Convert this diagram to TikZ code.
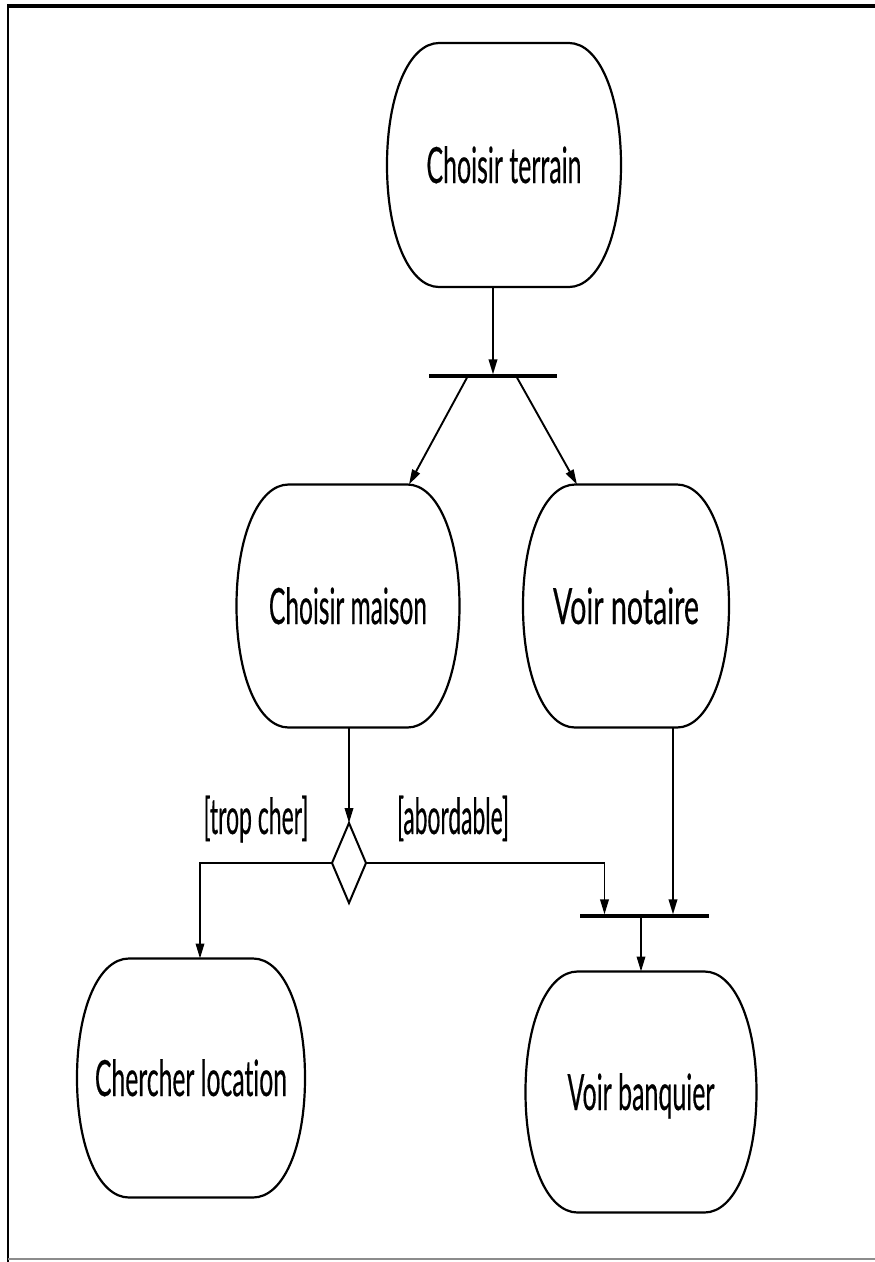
\documentclass[tikz,border=0pt]{standalone}
\usepackage{fontspec}
\usepackage{graphicx}
\usetikzlibrary{arrows.meta,shapes.geometric,calc}
\newfontfamily\actfont[Ligatures={NoCommon,NoContextual},FakeBold=0.5]{Lato}
% text squeezed to a given width, height kept
\newcommand\squeezed[2]{\resizebox{#1pt}{\height}{\fontsize{50pt}{52pt}\selectfont\actfont #2}}
% corner size of the activity outline
\def\rc{52}
\def\kx{30}
\def\ky{70}
% barrel-shaped outline around a named activity node
\newcommand\barrel[1]{%
  \draw[boxline] ($(#1.north west)+(\rc,0)$) -- ($(#1.north east)+(-\rc,0)$)
    .. controls ($(#1.north east)+(-\rc+\kx,0)$) and ($(#1.east)+(0,-\ky)$) .. (#1.east)
    .. controls ($(#1.east)+(0,\ky)$) and ($(#1.south east)+(-\rc+\kx,0)$) .. ($(#1.south east)+(-\rc,0)$)
    -- ($(#1.south west)+(\rc,0)$)
    .. controls ($(#1.south west)+(\rc-\kx,0)$) and ($(#1.west)+(0,\ky)$) .. (#1.west)
    .. controls ($(#1.west)+(0,-\ky)$) and ($(#1.north west)+(\rc-\kx,0)$) .. cycle;}
\begin{document}
\begin{tikzpicture}[x=1pt,y=-1pt,
  act/.style={inner sep=0pt, outer sep=0pt, text height=36pt, text depth=0pt},
  boxline/.style={line width=2.2pt, black},
  lbl/.style={inner sep=0pt, outer sep=0pt, anchor=base},
  forkbar/.style={fill=black, inner sep=0pt, outer sep=0pt, minimum height=3.2pt},
  decision/.style={diamond, draw, line width=2pt, inner sep=0pt, outer sep=0pt,
    minimum width=34pt, minimum height=80pt},
  flow/.style={line width=1.9pt, -{Triangle[length=15pt,width=8.5pt]}},
  frame/.style={line width=3.5pt, black}]
\useasboundingbox (0,0) rectangle (875,1262);
\fill[white] (0,0) rectangle (875,1262);

% page frame
\draw[frame] (7,6) -- (875,6);
\draw[line width=2.5pt] (8,6) -- (8,1262);
\draw[line width=2pt, black!45] (8,1259) -- (875,1259);

% activities
\node[act, minimum width=234pt, minimum height=244pt] (ct) at (504,165) {\squeezed{155}{Choisir terrain}};
\node[act, minimum width=223pt, minimum height=243pt] (cm) at (348,606) {\squeezed{158}{Choisir maison}};
\node[act, minimum width=206pt, minimum height=243pt] (vn) at (626,606) {\squeezed{146}{Voir notaire}};
\node[act, minimum width=228pt, minimum height=239pt] (cl) at (191,1078) {\squeezed{192}{Chercher location}};
\node[act, minimum width=231pt, minimum height=241pt] (vb) at (641,1092) {\squeezed{147}{Voir banquier}};
\barrel{ct}
\barrel{cm}
\barrel{vn}
\barrel{cl}
\barrel{vb}

% fork / join bars and decision
\node[forkbar, minimum width=128pt] (f1) at (493,376) {};
\node[forkbar, minimum width=129pt] (f2) at (644.5,916) {};
\node[decision] (dia) at (349,863) {};

% guards
\node[lbl] (g1) at (256,834) {\squeezed{105}{[trop cher]}};
\node[lbl] (g2) at (453,834) {\squeezed{112}{[abordable]}};

% flows
\draw[flow] (ct.south -| f1.center) -- (f1.north);
\draw[flow] ($(f1.south)+(-26,0)$) -- ($(cm.north)+(61,0)$);
\draw[flow] ($(f1.south)+(24,0)$) -- ($(vn.north)+(-49,0)$);
\draw[flow] (cm.south -| dia.north) -- (dia.north);
\draw[flow] (dia.west) -| ($(cl.north)+(9,0)$);
\draw[flow] (dia.east) -| ($(f2.north)+(-40,0)$);
\draw[flow] ($(vn.south)+(47,0)$) coordinate (vnout) -- (vnout |- f2.north);
\draw[flow] (f2.south -| vb.north) -- (vb.north);
\end{tikzpicture}
\end{document}
